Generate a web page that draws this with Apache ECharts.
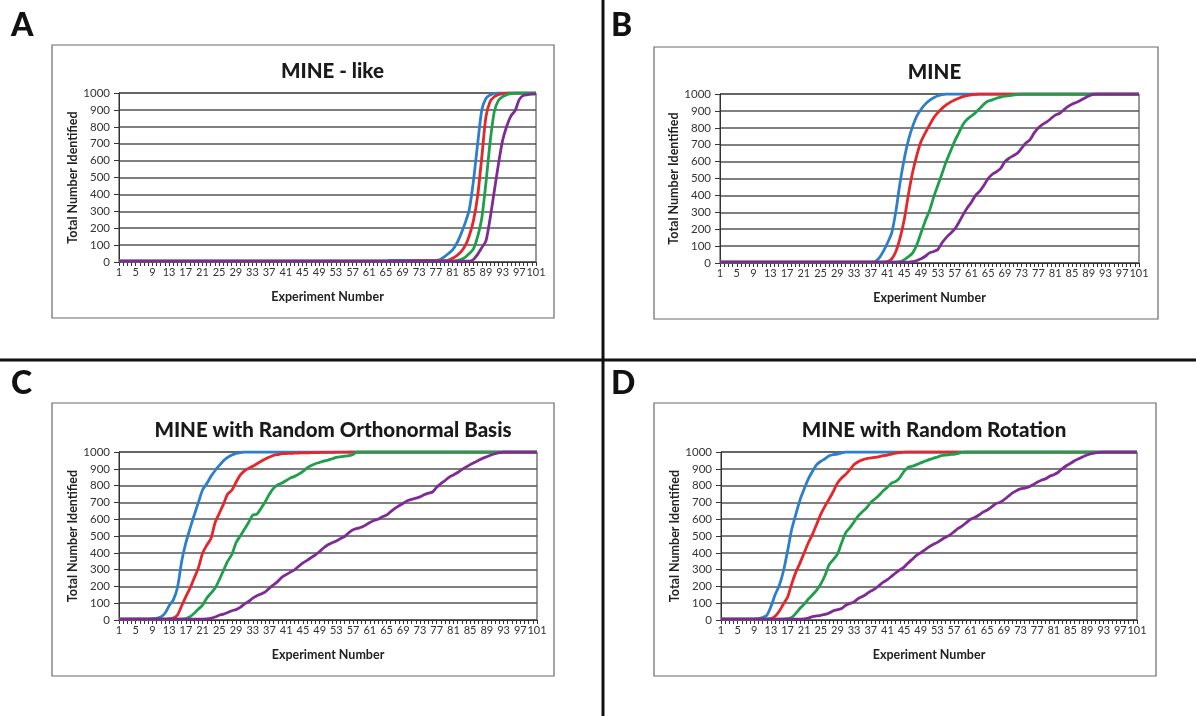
<!DOCTYPE html>
<html>
<head>
<meta charset="utf-8">
<script src="https://cdn.jsdelivr.net/npm/echarts@6/dist/echarts.min.js"></script>
<style>
html,body{margin:0;padding:0;background:#fff;}
#chart{width:1196px;height:716px;}
</style>
</head>
<body>
<div id="chart"></div>
<script>
// Categories (experiment number)
var categories = [
1,2,3,4,5,6,7,8,9,10,11,12,13,14,15,16,17,18,19,20,
21,22,23,24,25,26,27,28,29,30,31,32,33,34,35,36,37,38,39,40,
41,42,43,44,45,46,47,48,49,50,51,52,53,54,55,56,57,58,59,60,
61,62,63,64,65,66,67,68,69,70,71,72,73,74,75,76,77,78,79,80,
81,82,83,84,85,86,87,88,89,90,91,92,93,94,95,96,97,98,99,100,101];

var panelTitles = ["MINE - like", "MINE", "MINE with Random Orthonormal Basis", "MINE with Random Rotation"];
var panelLetters = ["A", "B", "C", "D"];
var yTicks = [0,100,200,300,400,500,600,700,800,900,1000];

// Panel A: MINE - like
var aBlue = [
5,5,5,5,5,5,5,5,5,5, 5,5,5,5,5,5,5,5,5,5, 5,5,5,5,5,5,5,5,5,5, 5,5,5,5,5,5,5,5,5,5,
5,5,5,5,5,5,5,5,5,5, 5,5,5,5,5,5,5,5,5,5, 5,5,5,5,5,10,10,10,10,10,
10,10,10,10,10,10,10,15,30,50, 72,110,165,230,310,480,697,900,968,988,
997,1000,1000,1000,1000,1000,1000,1000,1000,1000, 1000];
var aRed = [
5,5,5,5,5,5,5,5,5,5, 5,5,5,5,5,5,5,5,5,5, 5,5,5,5,5,5,5,5,5,5, 5,5,5,5,5,5,5,5,5,5,
5,5,5,5,5,5,5,5,5,5, 5,5,5,5,5,5,5,5,5,5, 5,5,5,5,5,5,5,5,5,5,
5,8,8,8,8,8,8,8,8,12, 22,38,60,95,155,245,390,620,860,950,
978,990,996,999,1000,1000,1000,1000,1000,1000, 1000];
var aGreen = [
5,5,5,5,5,5,5,5,5,5, 5,5,5,5,5,5,5,5,5,5, 5,5,5,5,5,5,5,5,5,5, 5,5,5,5,5,5,5,5,5,5,
5,5,5,5,5,5,5,5,5,5, 5,5,5,5,5,5,5,5,5,5, 5,5,5,5,5,5,5,5,5,5,
5,5,5,5,5,5,5,5,5,5, 5,8,15,28,50,78,150,260,470,710,
890,956,978,990,996,1000,1000,1000,1000,1000, 1000];
var aPurple = [
5,5,5,5,5,5,5,5,5,5, 5,5,5,5,5,5,5,5,5,5, 5,5,5,5,5,5,5,5,5,5, 5,5,5,5,5,5,5,5,5,5,
5,5,5,5,5,5,5,5,5,5, 5,5,5,5,5,5,5,5,5,5, 5,5,5,5,5,5,5,5,5,5,
5,5,5,5,5,5,5,5,5,5, 5,5,5,5,5,15,45,85,125,259,
420,580,720,805,865,896,962,986,990,993, 995];

// Panel B: MINE
var bBlue = [
5,5,5,5,5,5,5,5,5,5, 5,5,5,5,5,5,5,5,5,5, 5,5,5,5,5,5,5,5,5,5,
5,5,5,5,5,5,5,8,30,70, 120,180,310,480,620,730,810,870,910,940,
962,978,990,997,1000,1000,1000,1000,1000,1000,
1000,1000,1000,1000,1000,1000,1000,1000,1000,1000, 1000,1000,1000,1000,1000,1000,1000,1000,1000,1000,
1000,1000,1000,1000,1000,1000,1000,1000,1000,1000, 1000,1000,1000,1000,1000,1000,1000,1000,1000,1000, 1000];
var bRed = [
5,5,5,5,5,5,5,5,5,5, 5,5,5,5,5,5,5,5,5,5, 5,5,5,5,5,5,5,5,5,5,
5,5,5,5,5,5,5,5,5,5, 8,25,70,150,260,410,540,640,720,770,
815,860,890,915,935,952,965,975,984,990, 995,998,1000,1000,1000,1000,1000,1000,1000,1000,
1000,1000,1000,1000,1000,1000,1000,1000,1000,1000, 1000,1000,1000,1000,1000,1000,1000,1000,1000,1000,
1000,1000,1000,1000,1000,1000,1000,1000,1000,1000, 1000];
var bGreen = [
5,5,5,5,5,5,5,5,5,5, 5,5,5,5,5,5,5,5,5,5, 5,5,5,5,5,5,5,5,5,5, 5,5,5,5,5,5,5,5,5,5,
5,5,5,8,20,38,60,110,180,250, 310,390,460,530,600,660,720,770,820,850,
870,890,915,940,958,965,975,982,987,990, 994,997,1000,1000,1000,1000,1000,1000,1000,1000,
1000,1000,1000,1000,1000,1000,1000,1000,1000,1000, 1000,1000,1000,1000,1000,1000,1000,1000,1000,1000, 1000];
var bPurple = [
5,5,5,5,5,5,5,5,5,5, 5,5,5,5,5,5,5,5,5,5, 5,5,5,5,5,5,5,5,5,5, 5,5,5,5,5,5,5,5,5,5,
5,5,5,5,5,5,8,15,25,40, 60,68,80,120,150,175,200,240,285,325,
360,400,425,460,500,525,540,560,600,620, 635,650,680,710,730,770,800,820,835,855,
875,885,905,925,940,950,962,975,988,998, 1000,1000,1000,1000,1000,1000,1000,1000,1000,1000, 1000];

// Panel C: MINE with Random Orthonormal Basis
var cBlue = [
5,5,5,5,5,5,5,5,8,10, 18,40,85,120,195,350,460,545,625,700,
775,812,855,890,920,948,968,982,992,997,
1000,1000,1000,1000,1000,1000,1000,1000,1000,1000, 1000,1000,1000,1000,1000,1000,1000,1000,1000,1000,
1000,1000,1000,1000,1000,1000,1000,1000,1000,1000, 1000,1000,1000,1000,1000,1000,1000,1000,1000,1000,
1000,1000,1000,1000,1000,1000,1000,1000,1000,1000, 1000,1000,1000,1000,1000,1000,1000,1000,1000,1000,
1000,1000,1000,1000,1000,1000,1000,1000,1000,1000, 1000];
var cRed = [
5,5,5,5,5,5,5,5,5,5, 5,5,8,12,30,85,139,190,250,310,
398,445,485,580,635,690,750,772,820,862, 888,903,915,930,945,958,970,980,985,990,
991,992,993,994,995,995,996,996,997,998, 998,998,999,999,999,1000,1000,1000,1000,1000,
1000,1000,1000,1000,1000,1000,1000,1000,1000,1000, 1000,1000,1000,1000,1000,1000,1000,1000,1000,1000,
1000,1000,1000,1000,1000,1000,1000,1000,1000,1000, 1000,1000,1000,1000,1000,1000,1000,1000,1000,1000, 1000];
var cGreen = [
5,5,5,5,5,5,5,5,5,5, 5,5,5,5,5,5,8,20,40,65,
89,130,160,190,240,295,350,390,460,500, 540,580,625,630,665,705,750,785,805,815,
830,845,855,868,885,905,920,930,938,946, 952,960,968,972,975,978,985,1000,1000,1000,
1000,1000,1000,1000,1000,1000,1000,1000,1000,1000, 1000,1000,1000,1000,1000,1000,1000,1000,1000,1000,
1000,1000,1000,1000,1000,1000,1000,1000,1000,1000, 1000,1000,1000,1000,1000,1000,1000,1000,1000,1000, 1000];
var cPurple = [
5,5,5,5,5,5,5,5,5,5, 5,5,5,5,5,5,5,5,5,5,
5,6,10,18,28,35,45,55,62,75, 95,110,130,145,155,168,190,210,230,255,
270,285,298,320,340,355,372,388,408,430, 448,460,470,485,497,520,537,545,552,565,
580,592,600,615,624,645,665,680,695,710, 718,725,733,745,755,762,790,812,830,850,
863,878,895,910,925,938,950,962,972,982, 990,996,1000,1000,1000,1000,1000,1000,1000,1000, 1000];

// Panel D: MINE with Random Rotation
var dBlue = [
5,5,5,5,5,5,5,5,5,8, 15,28,80,150,205,290,410,540,630,715,
780,840,885,925,945,960,978,985,988,995,
1000,1000,1000,1000,1000,1000,1000,1000,1000,1000, 1000,1000,1000,1000,1000,1000,1000,1000,1000,1000,
1000,1000,1000,1000,1000,1000,1000,1000,1000,1000, 1000,1000,1000,1000,1000,1000,1000,1000,1000,1000,
1000,1000,1000,1000,1000,1000,1000,1000,1000,1000, 1000,1000,1000,1000,1000,1000,1000,1000,1000,1000,
1000,1000,1000,1000,1000,1000,1000,1000,1000,1000, 1000];
var dRed = [
5,5,5,5,5,5,5,5,5,5, 5,5,8,22,52,95,135,215,285,340,
400,460,510,570,630,678,720,765,815,845, 868,895,925,942,953,960,965,968,973,978,
982,988,993,997,999,1000,1000,1000,1000,1000,
1000,1000,1000,1000,1000,1000,1000,1000,1000,1000, 1000,1000,1000,1000,1000,1000,1000,1000,1000,1000,
1000,1000,1000,1000,1000,1000,1000,1000,1000,1000, 1000,1000,1000,1000,1000,1000,1000,1000,1000,1000,
1000,1000,1000,1000,1000,1000,1000,1000,1000,1000, 1000];
var dGreen = [
5,5,5,5,5,5,5,5,5,5, 5,5,5,5,5,5,8,15,40,70,
95,125,150,178,215,265,330,360,392,460, 520,550,585,620,645,668,700,720,742,770,
790,815,825,848,885,910,915,925,935,945, 955,962,970,978,982,985,986,992,998,1000,
1000,1000,1000,1000,1000,1000,1000,1000,1000,1000, 1000,1000,1000,1000,1000,1000,1000,1000,1000,1000,
1000,1000,1000,1000,1000,1000,1000,1000,1000,1000, 1000,1000,1000,1000,1000,1000,1000,1000,1000,1000, 1000];
var dPurple = [
5,5,5,5,5,5,5,5,5,5, 5,5,5,5,5,5,5,5,5,5,
7,12,20,24,28,33,42,55,62,68, 88,98,108,128,140,155,172,185,205,225,
240,260,280,298,315,340,362,385,400,418, 435,450,462,478,492,505,525,545,560,580,
600,610,625,642,655,672,692,700,715,735, 755,770,780,785,792,805,820,832,840,855,
865,878,900,918,932,948,960,972,982,990, 995,998,1000,1000,1000,1000,1000,1000,1000,1000, 1000];

var panelData = [
  [aBlue, aRed, aGreen, aPurple],
  [bBlue, bRed, bGreen, bPurple],
  [cBlue, cRed, cGreen, cPurple],
  [dBlue, dRed, dGreen, dPurple]
];
var seriesColors = ['#2b7fcc', '#e5262a', '#1f9f4b', '#7e2c93'];

// layout (pixels)
var grids = [
  {left:119, top:93, width:417, height:169},
  {left:720, top:94, width:419, height:169},
  {left:119, top:452, width:418, height:168},
  {left:721, top:452, width:416, height:168}
];
var boxes = [
  {x:52, y:45, w:502, h:273},
  {x:654, y:47, w:504, h:272},
  {x:52, y:403, w:502, h:273},
  {x:654, y:403, w:502, h:273}
];
var letterPos = [[11,10],[611,10],[11,368],[611,368]];

var axisColor = '#333';
var gridColor = '#555';
var chart = echarts.init(document.getElementById('chart'), null, {renderer:'canvas'});

var option = {
  animation:false,
  backgroundColor:'#ffffff',
  title:[], grid:[], xAxis:[], yAxis:[], series:[], graphic:[]
};

for (var p = 0; p < 4; p++) {
  var g = grids[p];
  option.grid.push({left:g.left, top:g.top, width:g.width, height:g.height,
    show:true, borderColor:axisColor, borderWidth:1, backgroundColor:'transparent', containLabel:false});
  option.title.push({
    text: panelTitles[p],
    left: g.left + g.width/2, top: g.top - 37, textAlign:'center',
    textStyle:{fontFamily:'Lato', fontWeight:900, fontSize:20.5, color:'#1a1a1a'}
  });
  option.xAxis.push({
    type:'category', gridIndex:p, data:categories, boundaryGap:false,
    name:'Experiment Number', nameLocation:'middle', nameGap:28,
    nameTextStyle:{fontFamily:'Lato', fontWeight:'bold', fontSize:12.5, color:'#222'},
    axisLine:{show:true, lineStyle:{color:axisColor, width:1}},
    axisTick:{show:true, interval:0, length:4, lineStyle:{color:axisColor, width:1}},
    axisLabel:{interval:3, fontFamily:'Lato', fontSize:11, color:'#333', margin:5},
    splitLine:{show:false}
  });
  option.yAxis.push({
    type:'value', gridIndex:p, min:0, max:1000, interval:100,
    name:'Total Number Identified', nameLocation:'middle', nameGap:40,
    nameTextStyle:{fontFamily:'Lato', fontWeight:'bold', fontSize:12.5, color:'#222'},
    axisLine:{show:true, lineStyle:{color:axisColor, width:1}},
    axisTick:{show:true, length:5, lineStyle:{color:axisColor, width:1}},
    axisLabel:{fontFamily:'Lato', fontSize:11.5, color:'#333', margin:9,
      formatter:function(v){ return String(v); }},
    splitLine:{show:true, lineStyle:{color:gridColor, width:1.5}}
  });
  for (var s = 0; s < 4; s++) {
    option.series.push({
      type:'line', xAxisIndex:p, yAxisIndex:p, data:panelData[p][s],
      showSymbol:false, symbol:'none', smooth:0.25,
      lineStyle:{color:seriesColors[s], width:2.8},
      itemStyle:{color:seriesColors[s]}, z:2+s
    });
  }
  var b = boxes[p];
  option.graphic.push({type:'rect', shape:{x:b.x, y:b.y, width:b.w, height:b.h},
    style:{fill:'none', stroke:'#6a6a6a', lineWidth:1.2}, silent:true, z:1});
  option.graphic.push({type:'text', x:letterPos[p][0], y:letterPos[p][1],
    style:{text:panelLetters[p], fill:'#111', font:'900 32px Lato'}, silent:true});
}
option.graphic.push({type:'line', shape:{x1:603, y1:0, x2:603, y2:716},
  style:{stroke:'#111', lineWidth:3}, silent:true});
option.graphic.push({type:'line', shape:{x1:0, y1:360, x2:1196, y2:360},
  style:{stroke:'#111', lineWidth:3}, silent:true});

chart.setOption(option);
</script>
</body>
</html>
